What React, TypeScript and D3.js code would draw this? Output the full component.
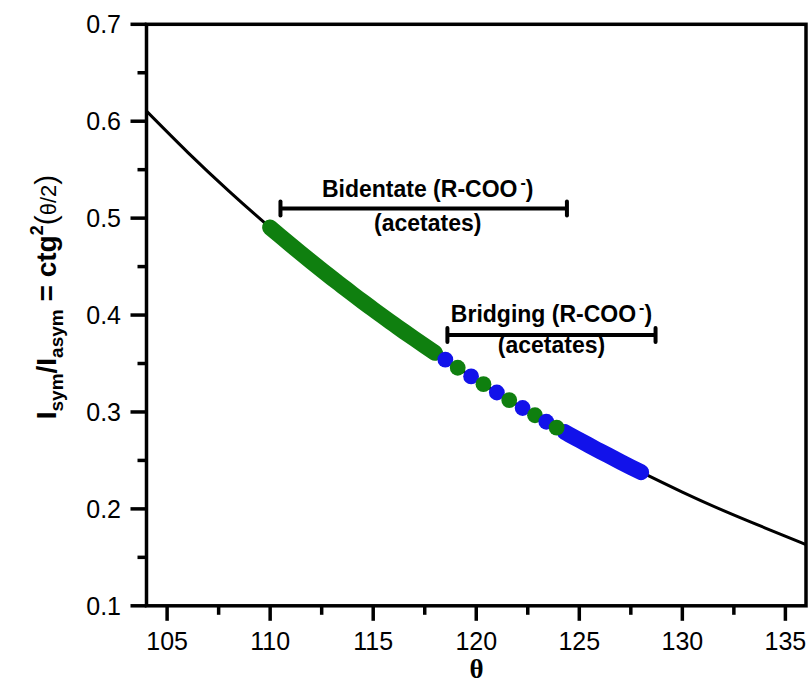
import React from "react";
import * as d3 from "d3";

// Curve ctg^2(theta/2), values read at theta = 104..136 (step 2)
const curveTheta = [104, 106, 108, 110, 112, 114, 116, 118, 120, 122, 124, 126, 128, 130, 132, 134, 136];
const curveValue = [0.6104, 0.5679, 0.5279, 0.4903, 0.455, 0.4217, 0.3905, 0.361, 0.3333, 0.3073, 0.2827, 0.2596, 0.2379, 0.2174, 0.1982, 0.1805, 0.1632];

// Dense green band (bidentate)
const greenBandTheta = [110, 110.5, 111, 111.5, 112, 112.5, 113, 113.5, 114, 114.5, 115, 115.5, 116, 116.5, 117, 117.5, 118];
const greenBandValue = [0.4903, 0.4813, 0.4724, 0.4636, 0.455, 0.4465, 0.4381, 0.4299, 0.4217, 0.4137, 0.4059, 0.3981, 0.3905, 0.3829, 0.3755, 0.3682, 0.361];

// Dense blue band (bridging)
const blueBandTheta = [124.3, 124.5, 125, 125.5, 126, 126.5, 127, 127.5, 128];
const blueBandValue = [0.2792, 0.2768, 0.271, 0.2653, 0.2596, 0.2541, 0.2486, 0.2432, 0.2379];

// Alternating dots in overlap region
const dotTheta = [118.5, 119.1, 119.75, 120.35, 121.0, 121.6, 122.25, 122.85, 123.4, 123.9];
const dotValue = [0.354, 0.3456, 0.3367, 0.3287, 0.3201, 0.3123, 0.3041, 0.2966, 0.2899, 0.2839];
const dotGroup = ["bridging", "bidentate", "bridging", "bidentate", "bridging", "bidentate", "bridging", "bidentate", "bridging", "bidentate"];

// Range annotations
const rangeNames = ["Bidentate", "Bridging"];
const rangeFrom = [110.5, 118.6];
const rangeTo = [124.4, 128.7];
const rangeLevel = [0.51, 0.3794];

const xTicks = [105, 110, 115, 120, 125, 130, 135];
const xMinor = [107.5, 112.5, 117.5, 122.5, 127.5, 132.5];
const yTicks = [0.1, 0.2, 0.3, 0.4, 0.5, 0.6, 0.7];
const yMinor = [0.15, 0.25, 0.35, 0.45, 0.55, 0.65];

const GREEN = "#0f7f0f";
const BLUE = "#1212ea";

export default function App() {
  const W = 810, H = 683;
  const L = 146.5, R = 806, T = 24.3, B = 605.8;
  const x = d3.scaleLinear().domain([104, 136]).range([L, R]);
  const y = d3.scaleLinear().domain([0.1, 0.7]).range([B, T]);
  const line = d3.line<[number, number]>().x(d => x(d[0])).y(d => y(d[1])).curve(d3.curveNatural);
  const curvePts = curveTheta.map((t, i) => [t, curveValue[i]] as [number, number]);
  const greenPts = greenBandTheta.map((t, i) => [t, greenBandValue[i]] as [number, number]);
  const bluePts = blueBandTheta.map((t, i) => [t, blueBandValue[i]] as [number, number]);
  const font = "'Liberation Sans', Arial, sans-serif";

  const titleDy = [-11, -13];
  const subDy = [23, 18];

  return (
    <svg width={W} height={H} style={{ position: "absolute", left: 0, top: 0, background: "#fff" }} fontFamily={font}>
      <defs>
        <clipPath id="plot">
          <rect x={L} y={T} width={R - L} height={B - T} />
        </clipPath>
      </defs>
      <rect x={0} y={0} width={W} height={H} fill="#fff" />
      <g clipPath="url(#plot)">
        <path d={line(curvePts) || ""} fill="none" stroke="#000" strokeWidth={3} />
        <path d={line(greenPts) || ""} fill="none" stroke={GREEN} strokeWidth={16} strokeLinecap="round" strokeLinejoin="round" />
        <path d={line(bluePts) || ""} fill="none" stroke={BLUE} strokeWidth={16} strokeLinecap="round" strokeLinejoin="round" />
        {dotTheta.map((t, i) => (
          <circle key={i} cx={x(t)} cy={y(dotValue[i])} r={7.9} fill={dotGroup[i] === "bridging" ? BLUE : GREEN} />
        ))}
      </g>

      {/* range annotations */}
      {rangeNames.map((n, i) => {
        const x0 = x(rangeFrom[i]), x1 = x(rangeTo[i]), yy = y(rangeLevel[i]);
        const cx = (x0 + x1) / 2 + (i === 0 ? 4 : 0);
        return (
          <g key={n}>
            <line x1={x0} x2={x1} y1={yy} y2={yy} stroke="#000" strokeWidth={4} />
            <line x1={x0} x2={x0} y1={yy - 7} y2={yy + 7} stroke="#000" strokeWidth={4} strokeLinecap="round" />
            <line x1={x1} x2={x1} y1={yy - 7} y2={yy + 7} stroke="#000" strokeWidth={4} strokeLinecap="round" />
            <text x={cx} y={yy + titleDy[i]} textAnchor="middle" fontSize={23} fontWeight="bold" fill="#000">
              {n} (R-COO<tspan fontSize={16} dx={3} dy={-9}>-</tspan><tspan dy={9}>)</tspan>
            </text>
            <text x={cx} y={yy + subDy[i]} textAnchor="middle" fontSize={23} fontWeight="bold" fill="#000">(acetates)</text>
          </g>
        );
      })}

      {/* frame */}
      <rect x={L} y={T} width={R - L} height={B - T} fill="none" stroke="#000" strokeWidth={3.5} />

      {/* y ticks */}
      {yTicks.map(v => (
        <g key={v}>
          <line x1={L - 16} x2={L} y1={y(v)} y2={y(v)} stroke="#000" strokeWidth={3.5} />
          <text x={121} y={y(v)} textAnchor="end" dominantBaseline="central" fontSize={25} fill="#000">{v.toFixed(1)}</text>
        </g>
      ))}
      {yMinor.map(v => (
        <line key={v} x1={L - 9} x2={L} y1={y(v)} y2={y(v)} stroke="#000" strokeWidth={3.5} />
      ))}

      {/* x ticks */}
      {xTicks.map(v => (
        <g key={v}>
          <line x1={x(v)} x2={x(v)} y1={B} y2={B + 15} stroke="#000" strokeWidth={3.5} />
          <text x={x(v)} y={650} textAnchor="middle" fontSize={25} fill="#000">{v}</text>
        </g>
      ))}
      {xMinor.map(v => (
        <line key={v} x1={x(v)} x2={x(v)} y1={B} y2={B + 9} stroke="#000" strokeWidth={3.5} />
      ))}

      {/* axis titles */}
      <text x={476.5} y={678} textAnchor="middle" fontSize={27} fontWeight="bold" fontFamily="'Liberation Serif', 'Times New Roman', serif" fill="#000">θ</text>
      <text transform="translate(56,297) rotate(-90)" textAnchor="middle" fontSize={28} fontWeight="bold" fill="#000">
        <tspan>I</tspan>
        <tspan fontSize={19} dy={7}>sym</tspan>
        <tspan dy={-7}>/I</tspan>
        <tspan fontSize={19} dy={7}>asym</tspan>
        <tspan dy={-7}> = ctg</tspan>
        <tspan fontSize={18} dy={-13}>2</tspan>
        <tspan dy={13} fontWeight="normal" fontSize={30}>(</tspan>
        <tspan fontWeight="normal" fontSize={22}>θ/2</tspan>
        <tspan fontWeight="normal" fontSize={30}>)</tspan>
      </text>
    </svg>
  );
}
